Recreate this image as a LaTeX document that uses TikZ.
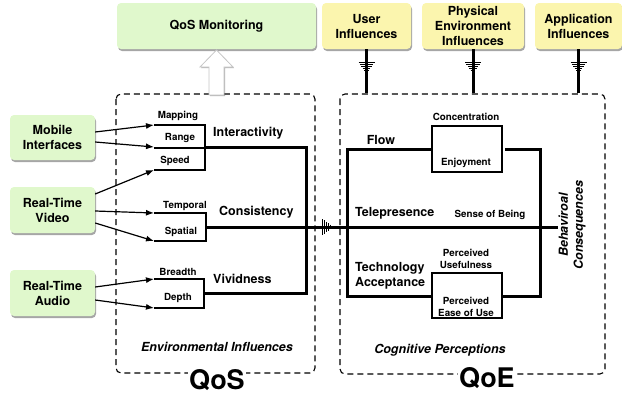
\documentclass[tikz,border=0pt]{standalone}
\usepackage{fontspec}
\setmainfont{TeX Gyre Heros}
\usetikzlibrary{arrows.meta,shadows}
\definecolor{boxgreen}{HTML}{E0F8CC}
\definecolor{boxyellow}{HTML}{FBF5AE}
\tikzset{
  infl/.style={rounded corners=4pt, align=center, inner sep=0pt,
    font=\fontsize{12.5}{15}\selectfont\bfseries,
    drop shadow={shadow xshift=1pt, shadow yshift=-2pt, opacity=0.35, fill=black}},
  greenbox/.style={infl, fill=boxgreen},
  yellowbox/.style={infl, fill=boxyellow},
  mainlbl/.style={font=\fontsize{12.5}{15}\selectfont\bfseries, inner sep=0pt},
  smalllbl/.style={font=\fontsize{9.8}{12}\selectfont\bfseries, inner sep=0pt, align=center},
  itlbl/.style={font=\fontsize{12.5}{15}\selectfont\bfseries\itshape, inner sep=0pt, align=center},
  biglbl/.style={font=\fontsize{27}{30}\selectfont\bfseries, fill=white, inner sep=1pt},
  thinln/.style={line width=1.2pt},
  thickln/.style={line width=3pt},
  arr/.style={thinln, -{Latex[length=8pt,width=6pt]}},
  dashbox/.style={line width=1.1pt, dash pattern=on 6pt off 4pt, rounded corners=5pt},
}
\begin{document}
\begin{tikzpicture}[x=1pt,y=-1pt]
\useasboundingbox (0,0) rectangle (622,394);

% dashed regions
\draw[dashbox] (116,94) rectangle (315,373);
\draw[dashbox] (340,94) rectangle (605,374);
\node[biglbl] (qos) at (217,380) {QoS};
\node[biglbl] (qoe) at (487,378) {QoE};

% top boxes
\node[greenbox, minimum width=199pt, minimum height=46pt] (mon) at (216.5,26) {QoS Monitoring};
\node[yellowbox, minimum width=89pt, minimum height=46pt] (user) at (366.5,26) {User\\Influences};
\node[yellowbox, minimum width=102pt, minimum height=46pt] (phys) at (473,26) {Physical\\Environment\\Influences};
\node[yellowbox, minimum width=87pt, minimum height=46pt] (app) at (578.5,26) {Application\\Influences};

% hollow up arrow
\draw[gray!45, fill=white, line width=0.8pt, drop shadow={shadow xshift=1pt, shadow yshift=-1pt, opacity=0.3, fill=black}]
  (209,95) -- (209,67) -- (200,67) -- (216.5,50) -- (233,67) -- (224,67) -- (224,95) -- cycle;

% left boxes
\node[greenbox, minimum width=85pt, minimum height=45pt] (mob) at (52.5,137.5) {Mobile\\Interfaces};
\node[greenbox, minimum width=85pt, minimum height=46pt] (vid) at (52.5,210) {Real-Time\\Video};
\node[greenbox, minimum width=85pt, minimum height=46pt] (aud) at (52.5,293) {Real-Time\\Audio};

% QoS bracket coordinates
\coordinate (mapT) at (154,125);
\coordinate (rngT) at (154,147);
\coordinate (spdT) at (154,170);
\coordinate (temT) at (154,213);
\coordinate (spaT) at (154,241);
\coordinate (breT) at (154,279);
\coordinate (depT) at (154,308);

% brackets
\draw[thinln] (mapT) -- (205,125) -- (205,170) -- (spdT);
\draw[thinln] (154,148) -- (205,148);
\draw[thinln] (temT) -- (206,213) -- (206,241) -- (spaT);
\draw[thinln] (breT) -- (204,279) -- (204,308) -- (depT);

\node[smalllbl] (lmap) at (178,116) {Mapping};
\node[smalllbl] (lrng) at (180,137.5) {Range};
\node[smalllbl] (lspd) at (175,161) {Speed};
\node[smalllbl] (ltem) at (185,206) {Temporal};
\node[smalllbl] (lspa) at (181,232) {Spatial};
\node[smalllbl] (lbre) at (178,272) {Breadth};
\node[smalllbl] (ldep) at (178,298) {Depth};

% arrows from left boxes
\draw[arr] (mob.east |- 0,132) -- (mapT);
\draw[arr] (mob.east |- 0,142) -- (rngT);
\draw[arr] (vid.east |- 0,194) -- (spdT);
\draw[arr] (vid.east |- 0,211) -- (temT);
\draw[arr] (vid.east |- 0,223) -- (spaT);
\draw[arr] (aud.east |- 0,287) -- (breT);
\draw[arr] (aud.east |- 0,300) -- (depT);

% thick QoS lines
\draw[thickln, line join=miter] (205,147) -- (306,147) -- (306,293) -- (204,293);
\draw[thickln] (206,227) -- (558,227);

\node[mainlbl, anchor=west] (linter) at (213,133) {Interactivity};
\node[mainlbl, anchor=west] (lcons) at (219,212) {Consistency};
\node[mainlbl, anchor=west] (lviv) at (213,279) {Vividness};
\node[itlbl] (lenv) at (217,347) {Environmental Influences};

% hatch arrowhead on consistency line
\foreach \i in {0,...,5} {
  \draw[line width=0.7pt] (322+2*\i, 227-8+1.4*\i) -- (322+2*\i, 227+8-1.4*\i);
}

% influence connectors
\foreach \n/\x in {user/366.5, phys/473, app/578.5} {
  \draw[thickln] (\n.south) -- (\x,93);
  \foreach \i in {0,...,5} {
    \draw[line width=0.7pt] (\x-8+1.4*\i, 62+2*\i) -- (\x+8-1.4*\i, 62+2*\i);
  }
}

% QoE structure
\node[draw, thinln, minimum width=70pt, minimum height=46pt, inner sep=0pt] (conc) at (467,149) {};
\node[draw, thinln, minimum width=70pt, minimum height=45pt, inner sep=0pt] (peou) at (467,295.5) {};
\draw[thickln, line join=miter] (conc.west) -- (347,149) -- (347,296) -- (peou.west |- 0,296);
\draw[thickln, line join=miter] (505,149) -- (540,149) -- (540,296) -- (peou.east |- 0,296);

\node[smalllbl] (lconc) at (466,117) {Concentration};
\node[smalllbl] (lenj) at (466,163) {Enjoyment};
\node[smalllbl] (lsob) at (490,215) {Sense of Being};
\node[smalllbl] (lpu) at (466,259) {Perceived\\Usefulness};
\node[smalllbl] (lpe) at (466,307) {Perceived\\Ease of Use};

\node[mainlbl] (lflow) at (381,140) {Flow};
\node[mainlbl, anchor=west] (ltele) at (355,213) {Telepresence};
\node[mainlbl, anchor=west, align=left] (ltech) at (355,275.5) {Technology\\Acceptance};
\node[itlbl, rotate=90] (lbeh) at (572,225) {Behaviroal\\Consequences};
\node[itlbl] (lcog) at (440,350) {Cognitive Perceptions};
\end{tikzpicture}
\end{document}
